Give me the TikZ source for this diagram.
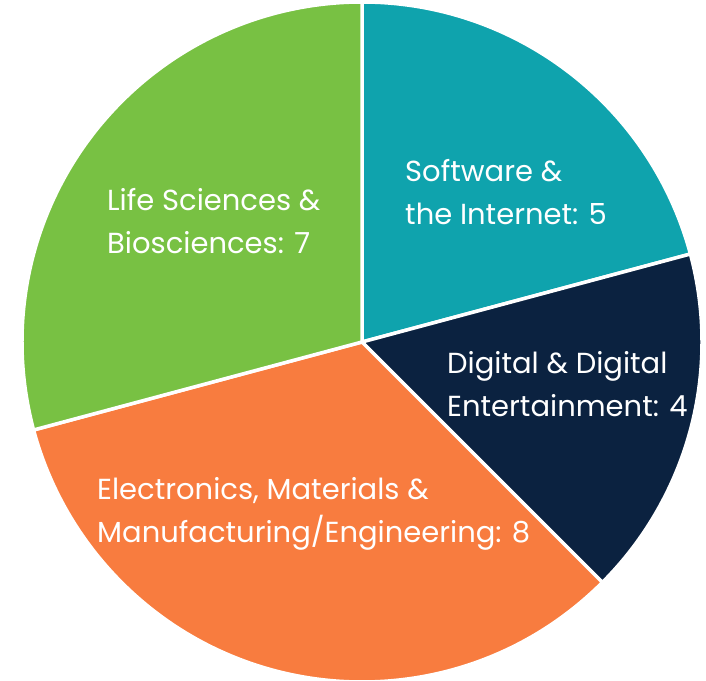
\documentclass[tikz,border=0pt]{standalone}
\usepackage{fontspec}
\setmainfont{Poppins}
\definecolor{lifegreen}{HTML}{78C143}
\definecolor{softteal}{HTML}{0FA3AD}
\definecolor{digitalnavy}{HTML}{0B2240}
\definecolor{elecorange}{HTML}{F87C3F}

\begin{document}
\begin{tikzpicture}[x=1pt, y=1pt,
  slice/.style={draw=white, line width=3.5pt, line join=round},
  lbl/.style={text=white, align=left, anchor=west, inner sep=0pt, font=\fontsize{29}{43}\selectfont}]
\useasboundingbox (0,0) rectangle (706,680);
\coordinate (c) at (362,338);
\draw[slice, fill=softteal] (c) -- ++(90:340) arc[start angle=90, end angle=15, radius=340] -- cycle;
\draw[slice, fill=digitalnavy] (c) -- ++(15:340) arc[start angle=15, end angle=-45, radius=340] -- cycle;
\draw[slice, fill=elecorange] (c) -- ++(-45:340) arc[start angle=-45, end angle=-165, radius=340] -- cycle;
\draw[slice, fill=lifegreen] (c) -- ++(-165:340) arc[start angle=-165, end angle=-270, radius=340] -- cycle;
\node (life) [lbl] at (107,459) {Life Sciences \&\\Biosciences: 7};
\node (soft) [lbl] at (405,488) {Software \&\\the Internet: 5};
\node (digi) [lbl] at (447,296) {Digital \& Digital\\Entertainment: 4};
\node (elec) [lbl] at (97,166) {Electronics, Materials \&\\Manufacturing/Engineering: 8};
\end{tikzpicture}
\end{document}
